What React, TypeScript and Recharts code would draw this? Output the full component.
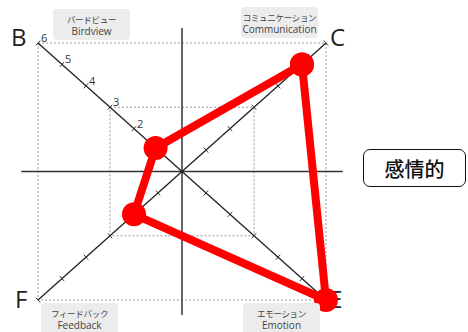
import { ComposedChart, Line, Scatter, XAxis, YAxis, ReferenceLine, ReferenceArea } from 'recharts'

// four diagonal axes: name, direction signs, score
const axisNames = ['C', 'E', 'F', 'B']
const axisSigns = [
  [1, 1],
  [1, -1],
  [-1, -1],
  [-1, 1],
]
const scores = [5, 6, 2, 1.1]
const tickLevels = [1, 2, 3, 4, 5, 6]
const labeledLevels = [2, 3, 4, 5, 6]
const gridLevels = [3, 6]

const polygon = axisNames.map((name, i) => ({
  name,
  x: axisSigns[i][0] * scores[i],
  y: axisSigns[i][1] * scores[i],
}))
polygon.push({ ...polygon[0] })

const tickPoints = axisNames.flatMap((name, i) =>
  tickLevels.map((k) => ({
    name,
    x: axisSigns[i][0] * k,
    y: axisSigns[i][1] * k,
    slope: axisSigns[i][0] * axisSigns[i][1],
    label: name === 'B' && labeledLevels.includes(k) ? String(k) : '',
  }))
)

const TickMark = (props: any) => {
  const { cx, cy, payload } = props
  // perpendicular to the diagonal in pixel space
  const px = 2.2
  const py = payload.slope > 0 ? 2.5 : -2.5
  return (
    <g>
      <line x1={cx - px} y1={cy - py} x2={cx + px} y2={cy + py} stroke="#333" strokeWidth={1} />
      {payload.label && (
        <text x={cx + 3} y={cy - 1} fontSize={11} fill="#333" stroke="none" fontFamily="'Open Sans', sans-serif">
          {payload.label}
        </text>
      )}
    </g>
  )
}

const letter = { position: 'absolute' as const, fontFamily: "'Open Sans', sans-serif", fontSize: 24, color: '#222', lineHeight: 1 }
const box = {
  position: 'absolute' as const,
  background: '#ececec',
  borderRadius: 4,
  width: 77,
  textAlign: 'center' as const,
  color: '#444',
  fontFamily: "'Open Sans', sans-serif",
  paddingTop: 4,
  whiteSpace: 'nowrap' as const,
}
const jp = { fontFamily: "'Noto Sans CJK JP', sans-serif", fontSize: 8.5, lineHeight: '12px', letterSpacing: -0.3 }
const en = { fontSize: 10, lineHeight: '13px' }

export default function App() {
  return (
    <div style={{ position: 'relative', width: 468, height: 332, overflow: 'hidden', background: '#fff' }}>
      <style>{'body{margin:0}'}</style>
      <div style={{ ...letter, left: 329, top: 287 }}>E</div>
      <ComposedChart width={468} height={332} margin={{ top: 43, right: 142, bottom: 32, left: 38 }}>
        <XAxis type="number" dataKey="x" domain={[-6, 6]} hide />
        <YAxis type="number" dataKey="y" domain={[-6, 6]} hide />
        {gridLevels.map((g) => (
          <ReferenceArea key={g} x1={-g} x2={g} y1={-g} y2={g} fill="none" fillOpacity={0} stroke="#999" strokeDasharray="2 2" strokeWidth={1} ifOverflow="visible" />
        ))}
        <ReferenceLine segment={[{ x: -6.7, y: 0 }, { x: 6.7, y: 0 }]} stroke="#333" strokeWidth={1.5} ifOverflow="visible" />
        <ReferenceLine segment={[{ x: 0, y: -6.7 }, { x: 0, y: 6.7 }]} stroke="#333" strokeWidth={1.5} ifOverflow="visible" />
        <ReferenceLine segment={[{ x: -6, y: 6 }, { x: 6, y: -6 }]} stroke="#222" strokeWidth={1.3} ifOverflow="visible" />
        <ReferenceLine segment={[{ x: -6, y: -6 }, { x: 6, y: 6 }]} stroke="#222" strokeWidth={1.3} ifOverflow="visible" />
        <Scatter data={tickPoints} shape={TickMark} isAnimationActive={false} />
        <Line
          data={polygon}
          dataKey="y"
          type="linear"
          stroke="#ff0000"
          strokeWidth={8}
          strokeLinejoin="round"
          dot={{ r: 12, fill: '#ff0000', stroke: 'none' }}
          activeDot={false}
          isAnimationActive={false}
        />
      </ComposedChart>

      <div style={{ ...letter, left: 11, top: 25 }}>B</div>
      <div style={{ ...letter, left: 330, top: 25 }}>C</div>
      <div style={{ ...letter, left: 15, top: 287 }}>F</div>

      <div style={{ ...box, left: 53, top: 9, height: 27 }}>
        <div style={jp}>バードビュー</div>
        <div style={en}>Birdview</div>
      </div>
      <div style={{ ...box, left: 241, top: 7, height: 27 }}>
        <div style={jp}>コミュニケーション</div>
        <div style={en}>Communication</div>
      </div>
      <div style={{ ...box, left: 41, top: 303, height: 31 }}>
        <div style={jp}>フィードバック</div>
        <div style={en}>Feedback</div>
      </div>
      <div style={{ ...box, left: 243, top: 303, height: 31 }}>
        <div style={jp}>エモーション</div>
        <div style={en}>Emotion</div>
      </div>

      <div
        style={{
          position: 'absolute',
          left: 363,
          top: 149,
          width: 101,
          height: 36,
          border: '1.5px solid #111',
          borderRadius: 7,
          display: 'flex',
          alignItems: 'center',
          justifyContent: 'center',
          fontFamily: "'Noto Sans CJK JP', sans-serif",
          fontSize: 20,
          fontWeight: 500,
          color: '#111',
        }}
      >
        感情的
      </div>
    </div>
  )
}
